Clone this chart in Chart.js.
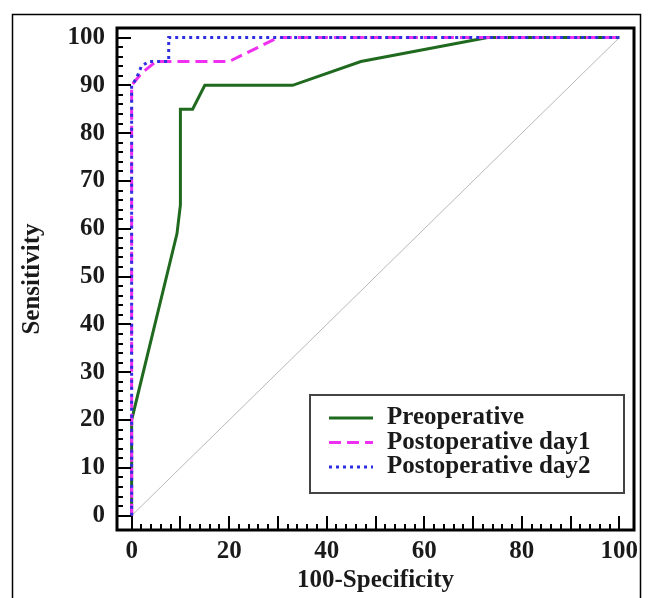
<!DOCTYPE html>
<html>
<head>
<meta charset="utf-8">
<script src="https://cdn.jsdelivr.net/npm/chart.js@4/dist/chart.umd.min.js"></script>
<style>
  html, body { margin: 0; padding: 0; background: #ffffff; }
  #wrap { width: 662px; height: 598px; position: relative; }
</style>
</head>
<body>
<div id="wrap"><canvas id="c" width="662" height="598"></canvas></div>
<script>
// ---- data ----
const seriesLabels = ['Preoperative', 'Postoperative day1', 'Postoperative day2'];
const preopX = [0, 0, 9.3, 10, 10, 12.5, 15, 33, 47, 73, 100];
const preopY = [0, 20, 59, 65, 85, 85, 90, 90, 95, 100, 100];
const day1X = [0, 0, 2, 5, 20, 30, 100];
const day1Y = [0, 90, 92.5, 95, 95, 100, 100];
const day2X = [0, 0, 1, 2, 3.5, 7.6, 7.6, 100];
const day2Y = [0, 90, 91.5, 94, 95, 95, 100, 100];
const refX = [0, 100];
const refY = [0, 100];
const xTickValues = [0, 20, 40, 60, 80, 100];
const yTickValues = [0, 10, 20, 30, 40, 50, 60, 70, 80, 90, 100];
const xTitle = '100-Specificity';
const yTitle = 'Sensitivity';

const toPts = (xs, ys) => xs.map((x, i) => ({ x: x, y: ys[i] }));
const FONT = 'Liberation Serif';

const datasets = [
  { label: seriesLabels[0], data: toPts(preopX, preopY), borderColor: '#1f6a1f', borderWidth: 3, borderDash: [], order: 2 },
  { label: seriesLabels[1], data: toPts(day1X, day1Y), borderColor: '#f030f0', borderWidth: 3, borderDash: [12, 6], order: 1 },
  { label: seriesLabels[2], data: toPts(day2X, day2Y), borderColor: '#2f2fe0', borderWidth: 3, borderDash: [3, 4], order: 0 },
  { label: '', data: toPts(refX, refY), borderColor: '#b8b8b8', borderWidth: 1, borderDash: [], order: 3, isRef: true }
];
datasets.forEach(d => { d.showLine = true; d.pointRadius = 0; d.pointHoverRadius = 0; d.fill = false; d.tension = 0; d.borderCapStyle = 'butt'; });

const framePlugin = {
  id: 'frameTicks',
  beforeDraw(chart) {
    const ctx = chart.ctx;
    ctx.save();
    ctx.strokeStyle = '#000';
    ctx.lineWidth = 1.5;
    ctx.beginPath();
    ctx.moveTo(12.5, 600);
    ctx.lineTo(12.5, 14.5);
    ctx.lineTo(640.5, 14.5);
    ctx.lineTo(640.5, 600);
    ctx.stroke();
    ctx.restore();
  },
  afterDraw(chart) {
    const ctx = chart.ctx;
    const a = chart.chartArea;
    const xs = chart.scales.x, ys = chart.scales.y;
    ctx.save();
    // ticks (inward)
    ctx.strokeStyle = '#000';
    ctx.lineWidth = 2;
    ctx.beginPath();
    for (let v = 0; v <= 100; v += 2) {
      const len = (v % 10 === 0) ? 14 : 6;
      const px = Math.round(xs.getPixelForValue(v));
      ctx.moveTo(px, a.bottom);
      ctx.lineTo(px, a.bottom - len);
      const py = Math.round(ys.getPixelForValue(v));
      ctx.moveTo(a.left, py);
      ctx.lineTo(a.left + len, py);
    }
    ctx.stroke();
    // frame
    ctx.lineWidth = 3;
    ctx.strokeRect(a.left, a.top, a.right - a.left, a.bottom - a.top);

    // legend
    const bx = 310, by = 395, bw = 314, bh = 98;
    ctx.fillStyle = '#fff';
    ctx.fillRect(bx, by, bw, bh);
    ctx.strokeStyle = '#444';
    ctx.lineWidth = 2;
    ctx.strokeRect(bx, by, bw, bh);
    const items = chart.data.datasets.filter(d => !d.isRef);
    items.forEach((d, i) => {
      const y = 418 + i * 24.5;
      ctx.beginPath();
      ctx.strokeStyle = d.borderColor;
      ctx.lineWidth = 3;
      ctx.setLineDash(d.borderDash || []);
      ctx.moveTo(329, y);
      ctx.lineTo(373, y);
      ctx.stroke();
      ctx.setLineDash([]);
      ctx.fillStyle = '#1a1a1a';
      ctx.font = 'bold 25px "' + FONT + '"';
      ctx.textAlign = 'left';
      ctx.textBaseline = 'middle';
      ctx.fillText(d.label, 387, y);
    });
    ctx.restore();
  }
};

const tickFont = { family: FONT, weight: 'bold', size: 25 };

new Chart(document.getElementById('c'), {
  type: 'scatter',
  data: { datasets: datasets },
  options: {
    responsive: false,
    animation: false,
    devicePixelRatio: 1,
    layout: { padding: { left: 0, right: 28, top: 28, bottom: 0 } },
    plugins: { legend: { display: false }, tooltip: { enabled: false } },
    scales: {
      x: {
        type: 'linear', min: -3, max: 103,
        afterBuildTicks: s => { s.ticks = xTickValues.map(v => ({ value: v })); },
        afterFit: s => { s.height = 68; },
        grid: { display: false, drawTicks: false },
        border: { display: false },
        ticks: { font: tickFont, color: '#1a1a1a', padding: 7, maxRotation: 0, autoSkip: false },
        title: { display: true, text: xTitle, font: tickFont, color: '#1a1a1a', padding: { top: 0, bottom: 2 } }
      },
      y: {
        type: 'linear', min: -3, max: 102,
        afterBuildTicks: s => { s.ticks = yTickValues.map(v => ({ value: v })); },
        afterFit: s => { s.width = 117; },
        grid: { display: false, drawTicks: false },
        border: { display: false },
        ticks: { font: tickFont, color: '#1a1a1a', padding: 12, autoSkip: false },
        title: { display: true, text: yTitle, font: tickFont, color: '#1a1a1a', padding: { top: 18, bottom: 0 } }
      }
    }
  },
  plugins: [framePlugin]
});
</script>
</body>
</html>
